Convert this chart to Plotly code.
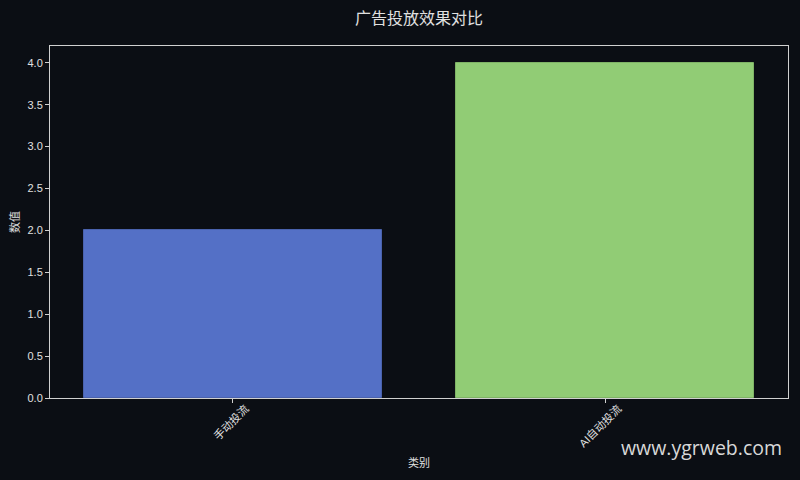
import plotly.graph_objects as go

# chart data
categories = ['手动投流', 'AI自动投流']
values = [2, 4]
bar_colors = ['#5470c6', '#91cc75']

BG = '#0b0e14'
TXT = '#e0e0e0'
FONT = 'Liberation Sans, Noto Sans CJK SC, sans-serif'

fig = go.Figure()
fig.add_trace(go.Bar(
    x=list(range(len(categories))), y=values,
    width=0.8,
    marker=dict(color=bar_colors, line=dict(color=['#4a62ad', '#7fb366'], width=1)),
    showlegend=False,
))

axis_common = dict(
    showline=True, mirror=True, linecolor='#d0d0d0', linewidth=1,
    ticks='outside', ticklen=4, tickcolor='#d0d0d0',
    showgrid=False, zeroline=False, automargin=False,
    tickfont=dict(size=11, color=TXT, family=FONT),
)

fig.update_xaxes(
    axis_common,
    range=[-0.49, 1.49],
    tickvals=list(range(len(categories))), ticktext=categories,
    tickangle=-45, ticklabelshift=13, ticklabelstandoff=-5,
)
fig.update_yaxes(
    axis_common,
    range=[0, 4.2],
    tickvals=[0, 0.5, 1, 1.5, 2, 2.5, 3, 3.5, 4],
    tickformat='.1f',
)

title_font = dict(size=11, color=TXT, family=FONT)
fig.update_layout(
    width=800, height=480,
    margin=dict(l=50, r=12, t=46, b=82),
    paper_bgcolor=BG, plot_bgcolor=BG,
    font=dict(family=FONT, color=TXT),
    title=dict(text='广告投放效果对比', x=0.5, xref='paper', xanchor='center',
               y=0.962, yanchor='middle',
               font=dict(size=16, color=TXT, family=FONT)),
    bargap=0,
    annotations=[
        # axis titles
        dict(text='类别', xref='paper', yref='paper', x=0.5, y=-0.182,
             xanchor='center', yanchor='middle', showarrow=False, font=title_font),
        dict(text='数值', xref='paper', yref='paper', x=-0.0474, y=0.5, textangle=-90,
             xanchor='center', yanchor='middle', showarrow=False, font=title_font),
        # watermark
        dict(text='www.ygrweb.com', xref='paper', yref='paper',
             x=0.9946, y=-0.14, xanchor='right', yanchor='middle', showarrow=False,
             font=dict(size=19.5, color='#d8d8d8', family='Open Sans, Noto Sans, sans-serif')),
    ],
)

# drop the page margin so the figure sits flush in the window
fig.write_html('out.html',
               config={'displayModeBar': False},
               post_script="document.body.style.margin='0';"
                           "document.body.style.background='#0b0e14';")
